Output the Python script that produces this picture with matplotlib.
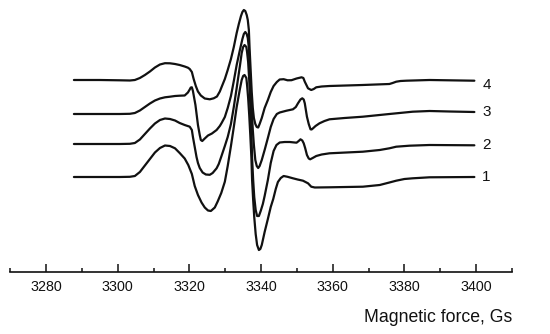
import matplotlib
matplotlib.use("Agg")
import matplotlib.pyplot as plt
from matplotlib.ticker import MultipleLocator

plt.rcParams['font.family'] = ['Liberation Sans', 'DejaVu Sans']

# Magnetic field (Gs) and EPR signal (a.u., relative to each spectrum's own baseline)
field_1 = [3287.8, 3295.0, 3300.6, 3303.4, 3304.8, 3306.2, 3307.6, 3309.0, 3310.4, 3311.8,
           3313.2, 3314.6, 3316.0, 3317.3, 3318.7, 3319.7, 3320.7, 3321.5, 3322.4, 3323.4,
           3324.3, 3325.2, 3326.0, 3327.1, 3327.9, 3328.9, 3329.9, 3330.7, 3331.6, 3332.4,
           3333.2, 3334.1, 3334.6, 3335.0, 3335.4, 3335.9, 3336.1, 3336.4, 3336.7, 3337.0,
           3337.3, 3337.5, 3337.8, 3338.1, 3338.5, 3338.9, 3339.4, 3339.8, 3340.2, 3341.0,
           3341.9, 3342.7, 3343.4, 3344.1, 3344.7, 3345.5, 3346.3, 3347.4, 3348.9, 3350.2,
           3351.7, 3353.1, 3354.0, 3355.0, 3359.1, 3368.4, 3373.1, 3375.8, 3377.7, 3380.0,
           3382.3, 3387.0, 3399.5]
signal_1 = [0, 0, 0, 0.2, 1, 5, 11.5, 18, 24.5, 29,
            31.5, 31, 28.7, 24, 18.5, 12, 3, -9, -18, -25.5,
            -30.5, -33.5, -34, -30.5, -24.5, -16, -4.7, 11, 31, 50,
            70, 88, 97, 101, 102, 99, 92, 79, 62, 42,
            20, -3, -23, -40, -57, -68, -73, -72, -68, -55,
            -42, -30, -22, -12, -5, -1, 1, 0.2, -1.3, -2.5,
            -3.7, -6.3, -9.7, -10.5, -10.3, -9.7, -8, -5.5, -3.7, -2,
            -1.3, -0.3, 0]

field_2 = [3287.8, 3295.0, 3300.6, 3303.4, 3304.8, 3306.2, 3307.6, 3309.0, 3310.4, 3311.8,
           3313.2, 3314.6, 3316.0, 3317.3, 3318.7, 3320.1, 3320.7, 3321.0, 3321.5, 3322.0,
           3322.4, 3322.9, 3323.7, 3324.6, 3325.7, 3326.5, 3327.6, 3328.2, 3328.9, 3329.9,
           3330.7, 3331.6, 3332.4, 3333.2, 3334.1, 3334.6, 3335.0, 3335.4, 3335.9, 3336.1,
           3336.4, 3336.7, 3337.0, 3337.3, 3337.5, 3337.8, 3338.1, 3338.5, 3338.9, 3339.4,
           3339.9, 3340.5, 3341.0, 3341.9, 3342.7, 3343.5, 3344.3, 3345.2, 3346.6, 3348.0,
           3349.9, 3350.5, 3351.0, 3351.5, 3351.9, 3352.3, 3352.8, 3353.3, 3353.7, 3354.4,
           3355.4, 3356.9, 3359.1, 3368.4, 3373.1, 3375.8, 3377.7, 3381.4, 3387.0, 3399.5]
signal_2 = [0, 0, 0, 0.2, 1, 4.5, 10, 15.5, 20.5, 24,
            25.5, 25, 23.5, 21, 19, 17.3, 14, 7, -3, -13,
            -19, -24, -28.5, -30.5, -30.8, -29, -24.3, -20, -12.7, -2,
            7, 20, 37, 56, 78, 91, 97, 99, 97, 92,
            82, 64, 39, 12, -14, -36, -53, -66, -72, -72,
            -67, -60, -52, -36, -19, -7, -1, 1.5, 2, 2,
            1.3, 3, 4.7, 3.5, 0.7, -4, -11, -14.5, -15.3, -14,
            -12, -10.5, -9.3, -7.7, -6, -4.3, -2.7, -1.7, -1, -1.3]

field_3 = [3287.8, 3295.0, 3300.6, 3303.4, 3304.8, 3306.2, 3307.6, 3309.0, 3310.4, 3311.8,
           3313.2, 3314.6, 3316.0, 3317.3, 3318.7, 3319.6, 3320.1, 3320.4, 3320.7, 3321.0,
           3321.7, 3322.4, 3322.9, 3323.2, 3323.6, 3324.3, 3325.2, 3326.3, 3327.6, 3328.5,
           3329.0, 3329.9, 3330.7, 3331.6, 3332.4, 3333.2, 3334.1, 3334.8, 3335.2, 3335.6,
           3336.0, 3336.3, 3336.6, 3336.8, 3337.1, 3337.4, 3337.7, 3338.0, 3338.4, 3338.8,
           3339.2, 3339.6, 3340.2, 3341.0, 3341.9, 3342.7, 3343.5, 3344.4, 3345.2, 3347.1,
           3348.9, 3349.7, 3350.3, 3351.0, 3351.5, 3351.9, 3352.2, 3352.8, 3353.3, 3353.8,
           3354.1, 3354.5, 3355.2, 3356.3, 3357.7, 3359.1, 3363.3, 3368.4, 3375.8, 3382.3,
           3387.0, 3392.6, 3399.5]
signal_3 = [0, 0, 0, 0.2, 1, 3.5, 7, 10.5, 13.5, 15.5,
            16.7, 17.3, 18, 18.3, 18.5, 21.5, 24.5, 26.5, 26.7, 23,
            9, -11, -21, -26, -27, -24.5, -21.5, -19.5, -16, -12,
            -9, -3, 6, 18, 33, 49, 64, 75, 80, 82,
            80, 76, 66, 48, 26, 4, -16, -31, -46, -52,
            -54, -52, -46, -36, -24, -13, -5, 0, 1.5, 3.3,
            4.7, 7, 10.7, 14.5, 15.7, 14.5, 10.7, -2.7, -10, -15.3,
            -15.5, -14.3, -12, -9.3, -7, -5.3, -4, -2.7, 0, 2.3,
            3, 2.5, 2]

field_4 = [3287.8, 3295.0, 3300.6, 3303.4, 3304.8, 3306.2, 3307.6, 3309.0, 3310.4, 3311.8,
           3313.2, 3314.6, 3316.0, 3317.3, 3318.7, 3319.6, 3320.1, 3320.7, 3321.2, 3321.8,
           3322.4, 3323.2, 3324.3, 3325.7, 3326.8, 3327.7, 3328.5, 3329.0, 3329.9, 3330.7,
           3331.6, 3332.4, 3333.2, 3333.8, 3334.4, 3334.8, 3335.2, 3335.6, 3336.0, 3336.3,
           3336.6, 3336.8, 3337.1, 3337.4, 3337.7, 3338.0, 3338.4, 3338.8, 3339.2, 3339.6,
           3340.2, 3341.0, 3341.9, 3342.7, 3343.5, 3344.4, 3345.2, 3346.3, 3347.4, 3348.5,
           3349.9, 3351.3, 3351.8, 3352.2, 3353.1, 3354.0, 3354.7, 3355.4, 3356.9, 3359.1,
           3368.3, 3375.8, 3376.7, 3377.7, 3378.9, 3380.5, 3387.0, 3399.5]
signal_4 = [0, 0, -0.3, -0.5, 0, 2, 5, 8.5, 12.5, 15.5,
            16.8, 16.7, 16, 15, 13.5, 12.3, 11, 8, 1, -6,
            -11.5, -15.5, -18.5, -19.3, -18.3, -16.5, -11.5, -7, 1, 10,
            21, 33, 47, 56, 64, 68, 70, 69, 65, 60,
            50, 32, 10, -12, -28, -38, -44, -47, -47.5, -44,
            -38, -28, -20, -12, -6, -2, 0.5, 0.8, -0.3, -0.2,
            1.5, 2.7, 2, -1.7, -8.3, -10, -9, -7.3, -6.5, -6,
            -5, -4, -3, -1.7, -1, -0.7, 0, -0.7]

spectrum_labels = ["1", "2", "3", "4"]
offsets = [95, 128, 158, 192]

fields = [field_1, field_2, field_3, field_4]
signals = [signal_1, signal_2, signal_3, signal_4]

W, H = 550, 334
fig = plt.figure(figsize=(W / 100, H / 100), dpi=100)
ax = fig.add_axes([10.1 / W, 62 / H, (512 - 10.1) / W, 272 / H])

label_shift = {"1": 0, "2": 0, "3": -0.5, "4": -4}
for f, s, off, lab in zip(fields, signals, offsets, spectrum_labels):
    ax.plot(f, [v + off for v in s], color='#111111', lw=1.6,
            solid_joinstyle='round', solid_capstyle='round')
    ax.text(f[-1] + 3.4, off + s[-1] + label_shift[lab], lab,
            ha='center', va='center', fontsize=11, color='#111111')

ax.set_xlim(3270, 3410)
ax.set_ylim(0, 272)
for side in ['top', 'left', 'right']:
    ax.spines[side].set_visible(False)
ax.spines['bottom'].set_linewidth(1.2)
ax.spines['bottom'].set_color('#111111')
ax.set_yticks([])
ax.xaxis.set_major_locator(MultipleLocator(20))
ax.xaxis.set_minor_locator(MultipleLocator(10))
ax.set_xticks([3280, 3300, 3320, 3340, 3360, 3380, 3400])
ax.tick_params(axis='x', which='major', direction='in', length=5.5, width=1.1,
               pad=6, labelsize=10.3, colors='#111111')
ax.tick_params(axis='x', which='minor', direction='in', length=3, width=1.1, colors='#111111')
ax.patch.set_alpha(0)

fig.text(512 / W, 1 - 318 / H, "Magnetic force, Gs", ha='right', va='center',
         fontsize=12.7, color='#111111')

fig.savefig("out.png", dpi=100)
